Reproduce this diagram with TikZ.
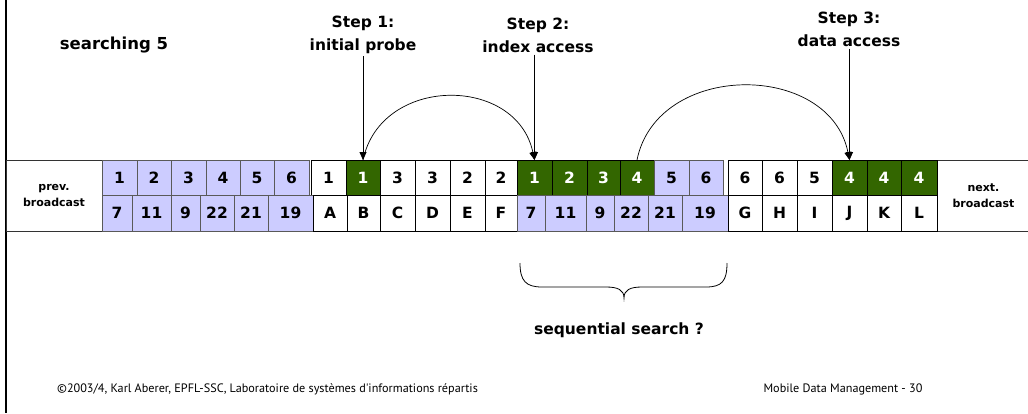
\documentclass[tikz,border=0pt]{standalone}
\usepackage{fontspec}
\setmainfont{DejaVu Sans}
\newfontfamily\footfont{PT Sans}
\usetikzlibrary{arrows.meta}
\definecolor{lavender}{HTML}{CCCCFF}
\definecolor{leaf}{HTML}{336600}

\begin{document}
\begin{tikzpicture}[x=1pt,y=-1pt,
  cellbase/.style={rectangle, inner sep=0pt, outer sep=0pt, line width=1pt,
    font=\bfseries\fontsize{15.5}{18}\selectfont},
  lavcell/.style={cellbase, fill=lavender, draw=black!65},
  greencell/.style={cellbase, fill=leaf, draw=black, text=white},
  whitecell/.style={cellbase, fill=white, draw=black},
  bcast/.style={rectangle, draw=black!80, line width=1pt, fill=white, align=center,
    inner sep=0pt, font=\bfseries\fontsize{11}{16}\selectfont},
  steptext/.style={align=center, font=\bfseries\fontsize{15.5}{23}\selectfont, inner sep=2pt},
  arr/.style={-{Triangle[length=8pt,width=7pt]}, line width=0.8pt},
  hop/.style={-{Triangle[length=8pt,width=7pt]}, line width=0.7pt},
  foot/.style={inner sep=0pt, font=\footfont\fontsize{12.2}{14}\selectfont}
]
\useasboundingbox (0,0) rectangle (1028,413);
\fill[white] (0,0) rectangle (1028,413);

% slide frame edge
\draw[line width=1.2pt] (6,0) -- (6,413);

% neighbouring broadcasts
\node[bcast, minimum width=96pt, minimum height=71pt] (prev) at (54,195.5) {prev.\\broadcast};
\node[bcast, minimum width=93pt, minimum height=71pt] (next) at (983.5,195.5) {next.\\broadcast};

% upper row: index keys and data keys
\foreach \a/\b/\t/\s/\n in {
  102/137/1/lavcell/t1, 137/171/2/lavcell/t2, 171/206/3/lavcell/t3,
  206/240/4/lavcell/t4, 240/274/5/lavcell/t5, 274/309/6/lavcell/t6,
  311/346/1/whitecell/t7, 346/380/1/greencell/t8, 380/415/3/whitecell/t9,
  415/450/3/whitecell/t10, 450/485/2/whitecell/t11, 485/517/2/whitecell/t12,
  517/552/1/greencell/t13, 552/587/2/greencell/t14, 587/620/3/greencell/t15,
  620/654/4/greencell/t16, 654/689/5/lavcell/t17, 689/723/6/lavcell/t18,
  728/762/6/whitecell/t19, 762/797/6/whitecell/t20, 797/832/5/whitecell/t21,
  832/867/4/greencell/t22, 867/901/4/greencell/t23, 901/937/4/greencell/t24}
  \node[\s, minimum width={(\b-\a)*1pt}, minimum height=35pt] (\n) at ({(\a+\b)/2},177.5) {\t};

% lower row: pointers and records
\foreach \a/\b/\t/\s/\n in {
  102/132/7/lavcell/b1, 132/171/11/lavcell/b2, 171/200/9/lavcell/b3,
  200/234/22/lavcell/b4, 234/268/21/lavcell/b5, 268/313/19/lavcell/b6,
  313/347/A/whitecell/b7, 347/380/B/whitecell/b8, 380/415/C/whitecell/b9,
  415/450/D/whitecell/b10, 450/485/E/whitecell/b11, 485/517/F/whitecell/b12,
  517/545/7/lavcell/b13, 545/586/11/lavcell/b14, 586/614/9/lavcell/b15,
  614/648/22/lavcell/b16, 648/682/21/lavcell/b17, 682/728/19/lavcell/b18,
  728/762/G/whitecell/b19, 762/797/H/whitecell/b20, 797/832/I/whitecell/b21,
  832/867/J/whitecell/b22, 867/901/K/whitecell/b23, 901/937/L/whitecell/b24}
  \node[\s, minimum width={(\b-\a)*1pt}, minimum height=36pt] (\n) at ({(\a+\b)/2},213) {\t};

% labels
\node[steptext, font=\bfseries\fontsize{16.5}{23}\selectfont] (search) at (114,45) {searching 5};
\node[steptext] (s1) at (363,35) {Step 1:\\initial probe};
\node[steptext] (s2) at (538,35) {Step 2:\\index access};
\node[steptext] (s3) at (849,29) {Step 3:\\data access};

% access steps
\draw[arr] (s1.south -| t8.north) -- (t8.north);
\draw[arr] (s2.south -| t13.north) -- (t13.north);
\draw[arr] (s3.south -| t22.north) -- (t22.north);
\draw[hop] (t8.north) .. controls +(18,-85) and +(-18,-85) .. (t13.north);
\draw[hop] (t16.north) .. controls +(20,-99) and +(-20,-99) .. (t22.north);

% brace under the index segment
\draw[line width=0.8pt] (520,263) .. controls (520,281) and (526,287) .. (542,287)
  -- (606,287) .. controls (618,287) and (624,290) .. (624,298)
  .. controls (624,290) and (630,287) .. (642,287)
  -- (706,287) .. controls (722,287) and (727,281) .. (727,263);
\node[steptext] (seq) at (619,330) {sequential search ?};

% footer
\node[foot, anchor=west] (copy) at (57,389) {©2003/4, Karl Aberer, EPFL-SSC, Laboratoire de systèmes d'informations répartis};
\node[foot] (page) at (843,389) {Mobile Data Management - 30};
\end{tikzpicture}
\end{document}
